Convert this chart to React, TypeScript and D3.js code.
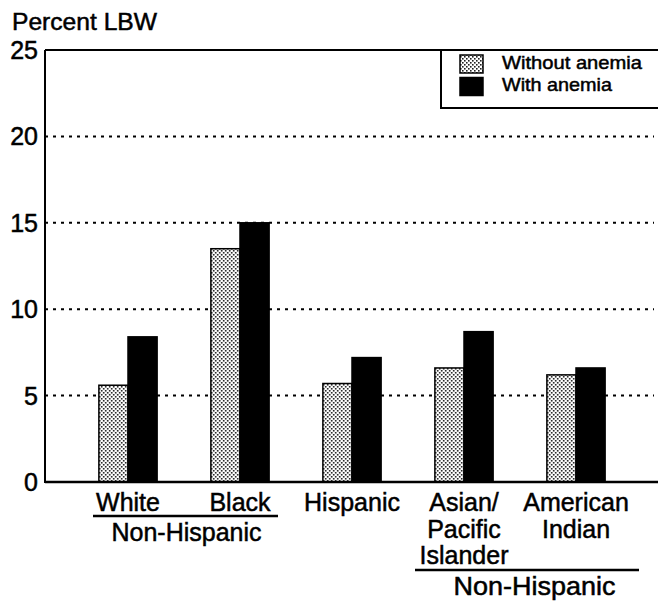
import React from "react";
import * as d3 from "d3";

const categories = ["White", "Black", "Hispanic", "Asian/Pacific Islander", "American Indian"];
const withoutAnemia = [5.6, 13.5, 5.7, 6.6, 6.2];
const withAnemia = [8.4, 15.0, 7.2, 8.7, 6.6];
const seriesNames = ["Without anemia", "With anemia"];
const yTicks = [0, 5, 10, 15, 20, 25];
const gridTicks = [5, 10, 15, 20];
const categoryLabelLines = [["White"], ["Black"], ["Hispanic"], ["Asian/", "Pacific", "Islander"], ["American", "Indian"]];
const groupLabel = "Non-Hispanic";
const yTitle = "Percent LBW";

const W = 658;
const H = 601;
const FONT = "'Liberation Sans', Arial, Helvetica, sans-serif";

type TProps = {
  x: number;
  y: number;
  size?: number;
  anchor?: "start" | "middle" | "end";
  len?: number;
  children: React.ReactNode;
};

function T({ x, y, size = 25, anchor = "middle", len, children }: TProps) {
  const extra: any = {};
  if (len) {
    extra.textLength = len;
    extra.lengthAdjust = "spacingAndGlyphs";
  }
  return (
    <text
      x={x}
      y={y}
      fontSize={size}
      fontFamily={FONT}
      textAnchor={anchor}
      fill="#000"
      stroke="#000"
      strokeWidth={0.5}
      {...extra}
    >
      {children}
    </text>
  );
}

export default function App() {
  const axisX = 45;
  const y = d3.scaleLinear().domain([0, 25]).range([482, 50]);
  const x = d3.scaleBand<string>().domain(categories).range([72, 632]).paddingInner(0.48).paddingOuter(0.24);
  const xs = d3.scaleBand<string>().domain(seriesNames).range([0, x.bandwidth()]);
  const series = [withoutAnemia, withAnemia];
  const fills = ["url(#stipple)", "#000"];
  const lineBase = [511, 537.5, 564];

  return (
    <svg width={W} height={H} style={{ position: "absolute", left: 0, top: 0, background: "#fff" }}>
      <defs>
        <pattern id="stipple" width={4} height={4} patternUnits="userSpaceOnUse">
          <rect width={4} height={4} fill="#fff" />
          <rect x={0} y={0} width={1.6} height={1.6} fill="#222" />
          <rect x={2} y={2} width={1.6} height={1.6} fill="#222" />
        </pattern>
      </defs>

      {/* gridlines */}
      {gridTicks.map((t) => (
        <line key={t} x1={axisX} x2={654} y1={y(t)} y2={y(t)} stroke="#000" strokeWidth={2} strokeDasharray="3 5" />
      ))}

      {/* bars */}
      {categories.map((c, i) => (
        <g key={c} transform={`translate(${x(c)},0)`}>
          {series.map((s, j) => (
            <rect
              key={j}
              x={xs(seriesNames[j])}
              y={y(s[i])}
              width={xs.bandwidth()}
              height={y(0) - y(s[i])}
              fill={fills[j]}
              stroke="#000"
              strokeWidth={1.5}
            />
          ))}
        </g>
      ))}

      {/* axes frame */}
      <line x1={axisX} x2={axisX} y1={y(25)} y2={y(0) + 1} stroke="#000" strokeWidth={2} />
      <line x1={axisX} x2={658} y1={y(0)} y2={y(0)} stroke="#000" strokeWidth={2.5} />
      <line x1={axisX} x2={658} y1={y(25)} y2={y(25)} stroke="#000" strokeWidth={2} />

      {/* y tick labels */}
      {yTicks.map((t) => (
        <T key={t} x={38} y={y(t) + 9} size={25} anchor="end">
          {t}
        </T>
      ))}
      <T x={12} y={30} size={24} anchor="start" len={145}>
        {yTitle}
      </T>

      {/* category labels */}
      {categories.map((c, i) => {
        const cx = (x(c) as number) + x.bandwidth() / 2;
        return categoryLabelLines[i].map((ln, k) => (
          <T key={c + ln} x={cx} y={lineBase[k]} size={25}>
            {ln}
          </T>
        ));
      })}

      {/* Non-Hispanic group 1 */}
      <line x1={93} x2={278} y1={516} y2={516} stroke="#000" strokeWidth={2.5} />
      <T x={186.5} y={541} size={25}>
        {groupLabel}
      </T>
      {/* Non-Hispanic group 2 */}
      <line x1={415} x2={639} y1={570} y2={570} stroke="#000" strokeWidth={2.5} />
      <T x={534.5} y={595} size={25} len={162}>
        {groupLabel}
      </T>

      {/* legend */}
      <rect x={441} y={y(25)} width={230} height={58} fill="#fff" stroke="#000" strokeWidth={2} />
      {seriesNames.map((s, j) => (
        <g key={s}>
          <rect x={460} y={55 + j * 22.5} width={23} height={18} fill={fills[j]} stroke="#000" strokeWidth={1.5} />
          <T x={502} y={69 + j * 22} size={19} anchor="start" len={j === 0 ? 140 : 110}>
            {s}
          </T>
        </g>
      ))}
    </svg>
  );
}
